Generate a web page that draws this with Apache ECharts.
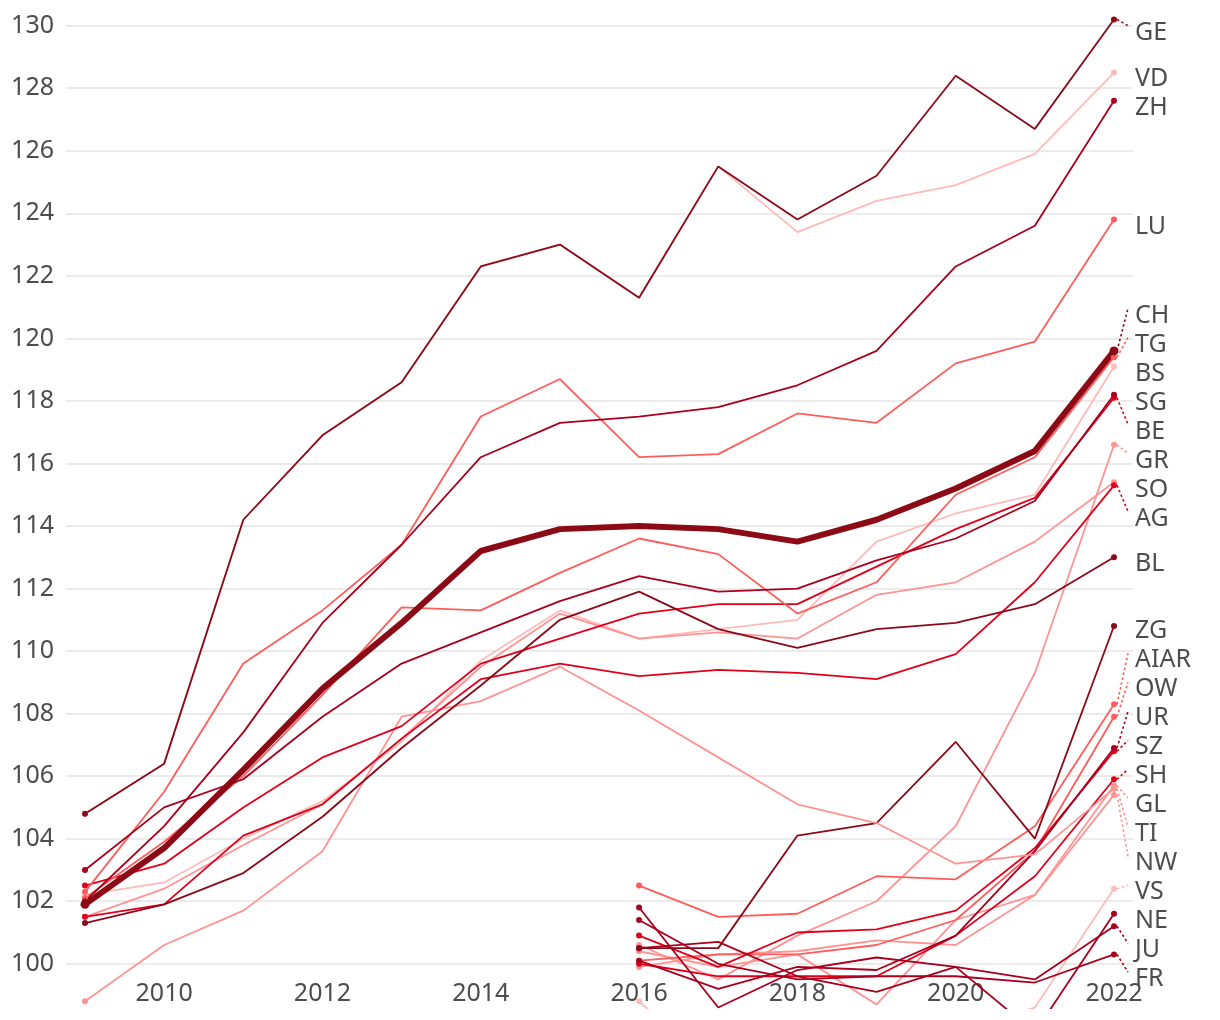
<!DOCTYPE html>
<html>
<head>
<meta charset="utf-8">
<script src="https://cdn.jsdelivr.net/npm/echarts@6/dist/echarts.min.js"></script>
<style>
  html, body { margin: 0; padding: 0; background: #fff; }
  #chart { width: 1220px; height: 1009px; }
</style>
</head>
<body>
<div id="chart"></div>
<script>
// years on the x axis and the tick labels that are shown
const years = [2009, 2010, 2011, 2012, 2013, 2014, 2015, 2016, 2017, 2018, 2019, 2020, 2021, 2022];
const xTicks = [2010, 2012, 2014, 2016, 2018, 2020, 2022];

// index values per canton (null = no data for that year)
const GE = [104.8, 106.4, 114.2, 116.9, 118.6, 122.3, 123.0, 121.3, 125.5, 123.8, 125.2, 128.4, 126.7, 130.2];
const VD = [104.8, 106.4, 114.2, 116.9, 118.6, 122.3, 123.0, 121.3, 125.5, 123.4, 124.4, 124.9, 125.9, 128.5];
const ZH = [102.0, 104.4, 107.4, 110.9, 113.4, 116.2, 117.3, 117.5, 117.8, 118.5, 119.6, 122.3, 123.6, 127.6];
const LU = [102.3, 105.5, 109.6, 111.3, 113.4, 117.5, 118.7, 116.2, 116.3, 117.6, 117.3, 119.2, 119.9, 123.8];
const CH = [101.9, 103.7, 106.2, 108.8, 110.9, 113.2, 113.9, 114.0, 113.9, 113.5, 114.2, 115.2, 116.4, 119.6];
const TG = [102.1, 103.9, 106.0, 108.6, 111.4, 111.3, 112.5, 113.6, 113.1, 111.2, 112.2, 115.0, 116.2, 119.4];
const BS = [102.2, 102.6, 104.0, 105.2, 107.1, 109.7, 111.3, 110.4, 110.7, 111.0, 113.5, 114.4, 115.0, 119.1];
const SG = [103.0, 105.0, 105.9, 107.9, 109.6, 110.6, 111.6, 112.4, 111.9, 112.0, 112.9, 113.6, 114.8, 118.2];
const BE = [102.5, 103.2, 105.0, 106.6, 107.6, 109.6, 110.4, 111.2, 111.5, 111.5, 112.7, 113.9, 114.9, 118.1];
const SO = [101.5, 102.4, 103.8, 105.1, 107.2, 109.5, 111.2, 110.4, 110.6, 110.4, 111.8, 112.2, 113.5, 115.4];
const AG = [101.5, 101.9, 104.1, 105.1, 107.2, 109.1, 109.6, 109.2, 109.4, 109.3, 109.1, 109.9, 112.2, 115.3];
const BL = [101.3, 101.9, 102.9, 104.7, 106.9, 108.9, 111.0, 111.9, 110.7, 110.1, 110.7, 110.9, 111.5, 113.0];
const TI = [98.8, 100.6, 101.7, 103.6, 107.9, 108.4, 109.5, 108.1, 106.6, 105.1, 104.5, 103.2, 103.5, 105.6];
const GR = [null, null, null, null, null, null, null, 100.6, 99.5, 100.9, 102.0, 104.4, 109.3, 116.6];
const ZG = [null, null, null, null, null, null, null, 100.5, 100.5, 104.1, 104.5, 107.1, 104.0, 110.8];
const AIAR = [null, null, null, null, null, null, null, 102.5, 101.5, 101.6, 102.8, 102.7, 104.4, 108.3];
const OW = [null, null, null, null, null, null, null, 100.1, 100.3, 100.3, 100.6, 101.4, 103.6, 107.9];
const UR = [null, null, null, null, null, null, null, 100.1, 99.2, 99.9, 99.8, 100.9, 103.6, 106.9];
const SZ = [null, null, null, null, null, null, null, 100.9, 99.9, 101.0, 101.1, 101.7, 103.7, 106.8];
const SH = [null, null, null, null, null, null, null, 100.0, 99.6, 99.6, 99.6, 100.9, 102.8, 105.9];
const GL = [null, null, null, null, null, null, null, 99.9, 100.3, 100.4, 100.75, 100.6, 102.2, 105.7];
const NW = [null, null, null, null, null, null, null, 100.4, 99.9, 100.3, 98.7, 101.4, 102.2, 105.4];
const VS = [null, null, null, null, null, null, null, 98.8, 96.5, 96.8, 97.2, 97.8, 98.6, 102.4];
const NE = [null, null, null, null, null, null, null, 101.8, 98.6, 99.8, 100.2, 99.9, 97.8, 101.6];
const JU = [null, null, null, null, null, null, null, 100.5, 100.7, 99.6, 99.1, 99.9, 99.5, 101.2];
const FR = [null, null, null, null, null, null, null, 101.4, 100.0, 99.5, 99.6, 99.6, 99.4, 100.3];

const darkest = '#8a0a19';
const darkRed = '#a8001d';
const red = '#e0001b';
const salmon = '#ff5c5c';
const pink = '#ff9393';
const lightPink = '#ffbaba';
const textColor = '#4d4d4d';
const font = '"Noto Sans", "Open Sans", sans-serif';

// drawing order: first in list is drawn underneath
const cantons = [
  { code: 'VD', values: VD, color: lightPink },
  { code: 'VS', values: VS, color: lightPink },
  { code: 'NW', values: NW, color: pink },
  { code: 'GL', values: GL, color: pink },
  { code: 'GR', values: GR, color: pink },
  { code: 'OW', values: OW, color: salmon },
  { code: 'AIAR', values: AIAR, color: salmon },
  { code: 'SH', values: SH, color: red },
  { code: 'SZ', values: SZ, color: red },
  { code: 'UR', values: UR, color: darkRed },
  { code: 'FR', values: FR, color: darkRed },
  { code: 'JU', values: JU, color: darkRed },
  { code: 'NE', values: NE, color: darkRed },
  { code: 'ZG', values: ZG, color: darkest },
  { code: 'TI', values: TI, color: pink },
  { code: 'BS', values: BS, color: lightPink },
  { code: 'SO', values: SO, color: pink },
  { code: 'AG', values: AG, color: red },
  { code: 'BE', values: BE, color: red },
  { code: 'TG', values: TG, color: salmon },
  { code: 'LU', values: LU, color: salmon },
  { code: 'BL', values: BL, color: darkest },
  { code: 'SG', values: SG, color: darkRed },
  { code: 'ZH', values: ZH, color: darkRed },
  { code: 'GE', values: GE, color: darkest },
  { code: 'CH', values: CH, color: '#8c0a16', thick: true }
];

function seriesData(values, dotSize) {
  const pts = [];
  values.forEach((v, i) => { if (v !== null) pts.push([years[i], v]); });
  return pts.map((p, i) => {
    const end = i === 0 || i === pts.length - 1;
    return end ? { value: p, symbol: 'circle', symbolSize: dotSize } : { value: p, symbol: 'none' };
  });
}

const chart = echarts.init(document.getElementById('chart'));

const option = {
  animation: false,
  backgroundColor: '#fff',
  // the 98 line sits below the visible area, so the chart is cut off just under 100
  grid: { left: 66, right: 87, top: 25.7, bottom: -17.3, outerBoundsMode: 'none', containLabel: false },
  xAxis: {
    type: 'value',
    min: 2008.76,
    max: 2022.24,
    axisLine: { show: false },
    axisTick: { show: false },
    splitLine: { show: false },
    axisLabel: {
      inside: true,
      margin: 20,
      customValues: xTicks,
      color: textColor,
      fontSize: 25,
      fontFamily: font,
      formatter: v => String(v)
    }
  },
  yAxis: {
    type: 'value',
    min: 98,
    max: 130,
    interval: 2,
    axisLine: { show: false },
    axisTick: { show: false },
    splitLine: { lineStyle: { color: '#e4e4e4', width: 1.5 } },
    axisLabel: {
      margin: 12,
      color: textColor,
      fontSize: 25,
      fontFamily: font,
      formatter: v => (v < 100 ? '' : String(v))
    }
  },
  series: cantons.map(c => ({
    name: c.code,
    type: 'line',
    data: seriesData(c.values, c.thick ? 9 : 6),
    showAllSymbol: true,
    clip: false,
    silent: true,
    lineStyle: { color: c.color, width: c.thick ? 6 : 1.8 },
    itemStyle: { color: c.color },
    emphasis: { disabled: true }
  }))
};

chart.setOption(option);

// end labels: spread them out vertically so they do not overlap
const gap = 29;
const topY = chart.convertToPixel({ gridIndex: 0 }, [2022, 130])[1];
const items = cantons.map(c => {
  const last = c.values[c.values.length - 1];
  const p = chart.convertToPixel({ gridIndex: 0 }, [2022, last]);
  return { code: c.code, color: c.color, x: p[0], target: p[1] };
});
items.sort((a, b) => a.target - b.target);

const clusters = [];
function place(c) {
  const n = c.items.length;
  c.start = Math.max(topY, c.sum / n - (n - 1) * gap / 2);
}
items.forEach(it => {
  const c = { items: [it], sum: it.target };
  place(c);
  clusters.push(c);
  while (clusters.length > 1) {
    const prev = clusters[clusters.length - 2];
    const cur = clusters[clusters.length - 1];
    const prevEnd = prev.start + (prev.items.length - 1) * gap;
    if (cur.start - prevEnd < gap) {
      prev.items = prev.items.concat(cur.items);
      prev.sum += cur.sum;
      clusters.pop();
      place(prev);
    } else {
      break;
    }
  }
});
clusters.forEach(c => c.items.forEach((it, i) => { it.anchor = c.start + i * gap; }));

const graphics = [];
items.forEach(it => {
  if (Math.abs(it.anchor - it.target) > 3) {
    graphics.push({
      type: 'line',
      silent: true,
      shape: { x1: it.x + 3, y1: it.target, x2: it.x + 14, y2: it.anchor },
      style: { stroke: it.color, lineWidth: 1.6, lineDash: [2.5, 2.5] }
    });
  }
  graphics.push({
    type: 'text',
    silent: true,
    x: it.x + 21,
    y: it.anchor + 7,
    style: {
      text: it.code,
      fill: textColor,
      font: '25px ' + font,
      align: 'left',
      verticalAlign: 'middle'
    }
  });
});

chart.setOption({ graphic: graphics });
</script>
</body>
</html>
